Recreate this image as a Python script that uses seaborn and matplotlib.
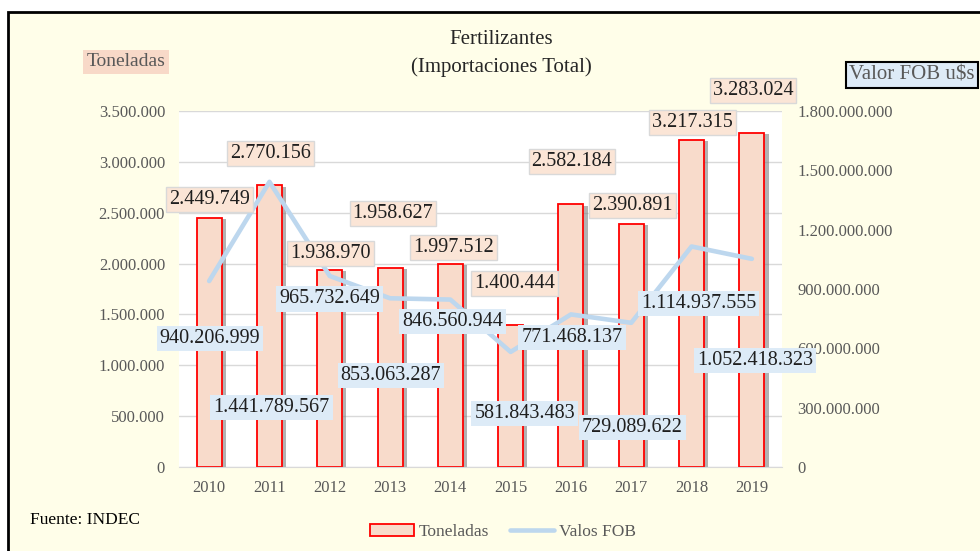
import matplotlib
matplotlib.use("Agg")
import matplotlib.pyplot as plt
import matplotlib.patheffects as pe
from matplotlib.patches import Rectangle
from matplotlib.lines import Line2D
from matplotlib.ticker import FuncFormatter
import numpy as np
import pandas as pd
import seaborn as sns

# data
years = ["2010", "2011", "2012", "2013", "2014", "2015", "2016", "2017", "2018", "2019"]
toneladas = [2449749, 2770156, 1938970, 1958627, 1997512, 1400444, 2582184, 2390891, 3217315, 3283024]
valor_fob = [940206999, 1441789567, 965732649, 853063287, 846560944, 581843483, 771468137, 729089622, 1114937555, 1052418323]

# where the value boxes sit, offset in pixels from the bar top / line point
ton_offsets = [(0, 18), (1, 32), (1, 16), (3, 54), (3, 16), (4, 41), (1, 43), (1, 18), (1, 17), (1, 43)]
fob_offsets = [(1, -57), (2, -226), (0, -23), (1, -77), (2, -22), (14, -62), (1, -23), (1, -105), (7, -57), (3, -102)]

BAR_FILL = "#F8DBCB"
BAR_EDGE = "#FF0000"
LINE_COL = "#BDD7EE"
GRAY_TXT = "#595959"


def miles(v, pos=None):
    return f"{v:,.0f}".replace(",", ".")


sns.set_style("white")
plt.rcParams["font.family"] = ["Liberation Serif", "DejaVu Serif"]

df = pd.DataFrame({"anio": years, "toneladas": toneladas, "fob": valor_fob})

fig = plt.figure(figsize=(9.8, 5.51), dpi=100)
fig.patch.set_facecolor("white")
# cream panel with black frame (right and bottom edges fall outside the picture)
fig.add_artist(Rectangle((8 / 980, -0.1), 1.1, 1 - 12 / 551 + 0.1, transform=fig.transFigure,
                         facecolor="#FFFEE9", edgecolor="black", linewidth=2, zorder=-1))

ax1 = fig.add_axes([179 / 980, 84 / 551, 603 / 980, 356 / 551])
ax1.set_facecolor("white")
sns.barplot(data=df, x="anio", y="toneladas", color=BAR_FILL, saturation=1,
            edgecolor=BAR_EDGE, linewidth=1.3, width=0.415, ax=ax1)
for p in ax1.patches:
    p.set_path_effects([pe.SimplePatchShadow(offset=(3, -1), shadow_rgbFace="#7F7F7F", alpha=0.6),
                        pe.Normal()])

ax2 = ax1.twinx()
sns.lineplot(data=df, x="anio", y="fob", color=LINE_COL, linewidth=3.3, legend=False, ax=ax2)

ax1.set_ylim(0, 3500000)
ax1.set_yticks(np.arange(0, 3500001, 500000))
ax2.set_ylim(0, 1800000000)
ax2.set_yticks(np.arange(0, 1800000001, 300000000))
ax1.yaxis.set_major_formatter(FuncFormatter(miles))
ax2.yaxis.set_major_formatter(FuncFormatter(miles))
ax1.set_xlim(-0.5, len(years) - 0.5)

ax1.yaxis.grid(True, color="#D9D9D9", linewidth=1)
ax1.set_axisbelow(True)
for ax in (ax1, ax2):
    for s in ax.spines.values():
        s.set_visible(False)
    ax.set_xlabel("")
    ax.set_ylabel("")
ax1.spines["bottom"].set_visible(True)
ax1.spines["bottom"].set_color("#D9D9D9")

ax1.tick_params(axis="y", length=0, pad=10, labelsize=12, labelcolor=GRAY_TXT)
ax1.tick_params(axis="x", length=0, pad=9, labelsize=12, labelcolor=GRAY_TXT)
ax2.tick_params(axis="y", length=0, pad=11, labelsize=12, labelcolor=GRAY_TXT)

# value boxes
for i, (t, off) in enumerate(zip(toneladas, ton_offsets)):
    ax2.annotate(miles(t), xy=(i, t), xycoords=ax1.transData, xytext=off,
                 textcoords="offset pixels", ha="center", va="center", fontsize=14.5,
                 color="#1F1F1F", zorder=6,
                 bbox=dict(boxstyle="square,pad=0.15", fc="#FBE5D6", ec="#D9D9D9", lw=1))
for i, (v, off) in enumerate(zip(valor_fob, fob_offsets)):
    ax2.annotate(miles(v), xy=(i, v), xytext=off,
                 textcoords="offset pixels", ha="center", va="center", fontsize=14.5,
                 color="#1F1F1F", zorder=6,
                 bbox=dict(boxstyle="square,pad=0.15", fc="#DDEBF7", ec="none"))

# titles and side labels
fig.text(501 / 980, 1 - 40 / 551, "Fertilizantes", ha="center", va="center", fontsize=15, color="#262626")
fig.text(501 / 980, 1 - 67 / 551, "(Importaciones Total)", ha="center", va="center", fontsize=15, color="#262626")
fig.text(126 / 980, 1 - 62 / 551, "Toneladas", ha="center", va="center", fontsize=14, color=GRAY_TXT,
         bbox=dict(boxstyle="square,pad=0.2", fc="#F8D9C8", ec="none"))
fig.text(912 / 980, 1 - 75 / 551, "Valor FOB u$s", ha="center", va="center", fontsize=15, color=GRAY_TXT,
         bbox=dict(boxstyle="square,pad=0.15", fc="#DEEBF7", ec="black", lw=1.5))
fig.text(30 / 980, 1 - 520 / 551, "Fuente: INDEC", ha="left", va="center", fontsize=12.5, color="black")

handles = [Rectangle((0, 0), 1, 1, fc=BAR_FILL, ec=BAR_EDGE, lw=1.3),
           Line2D([], [], color=LINE_COL, lw=3.3)]
fig.legend(handles, ["Toneladas", "Valos FOB"], loc="center", bbox_to_anchor=(503 / 980, 1 - 532 / 551),
           ncol=2, frameon=False, fontsize=12.5, labelcolor=GRAY_TXT,
           handlelength=2.5, handletextpad=0.3, columnspacing=1.2)

fig.savefig("out.png", dpi=100)
